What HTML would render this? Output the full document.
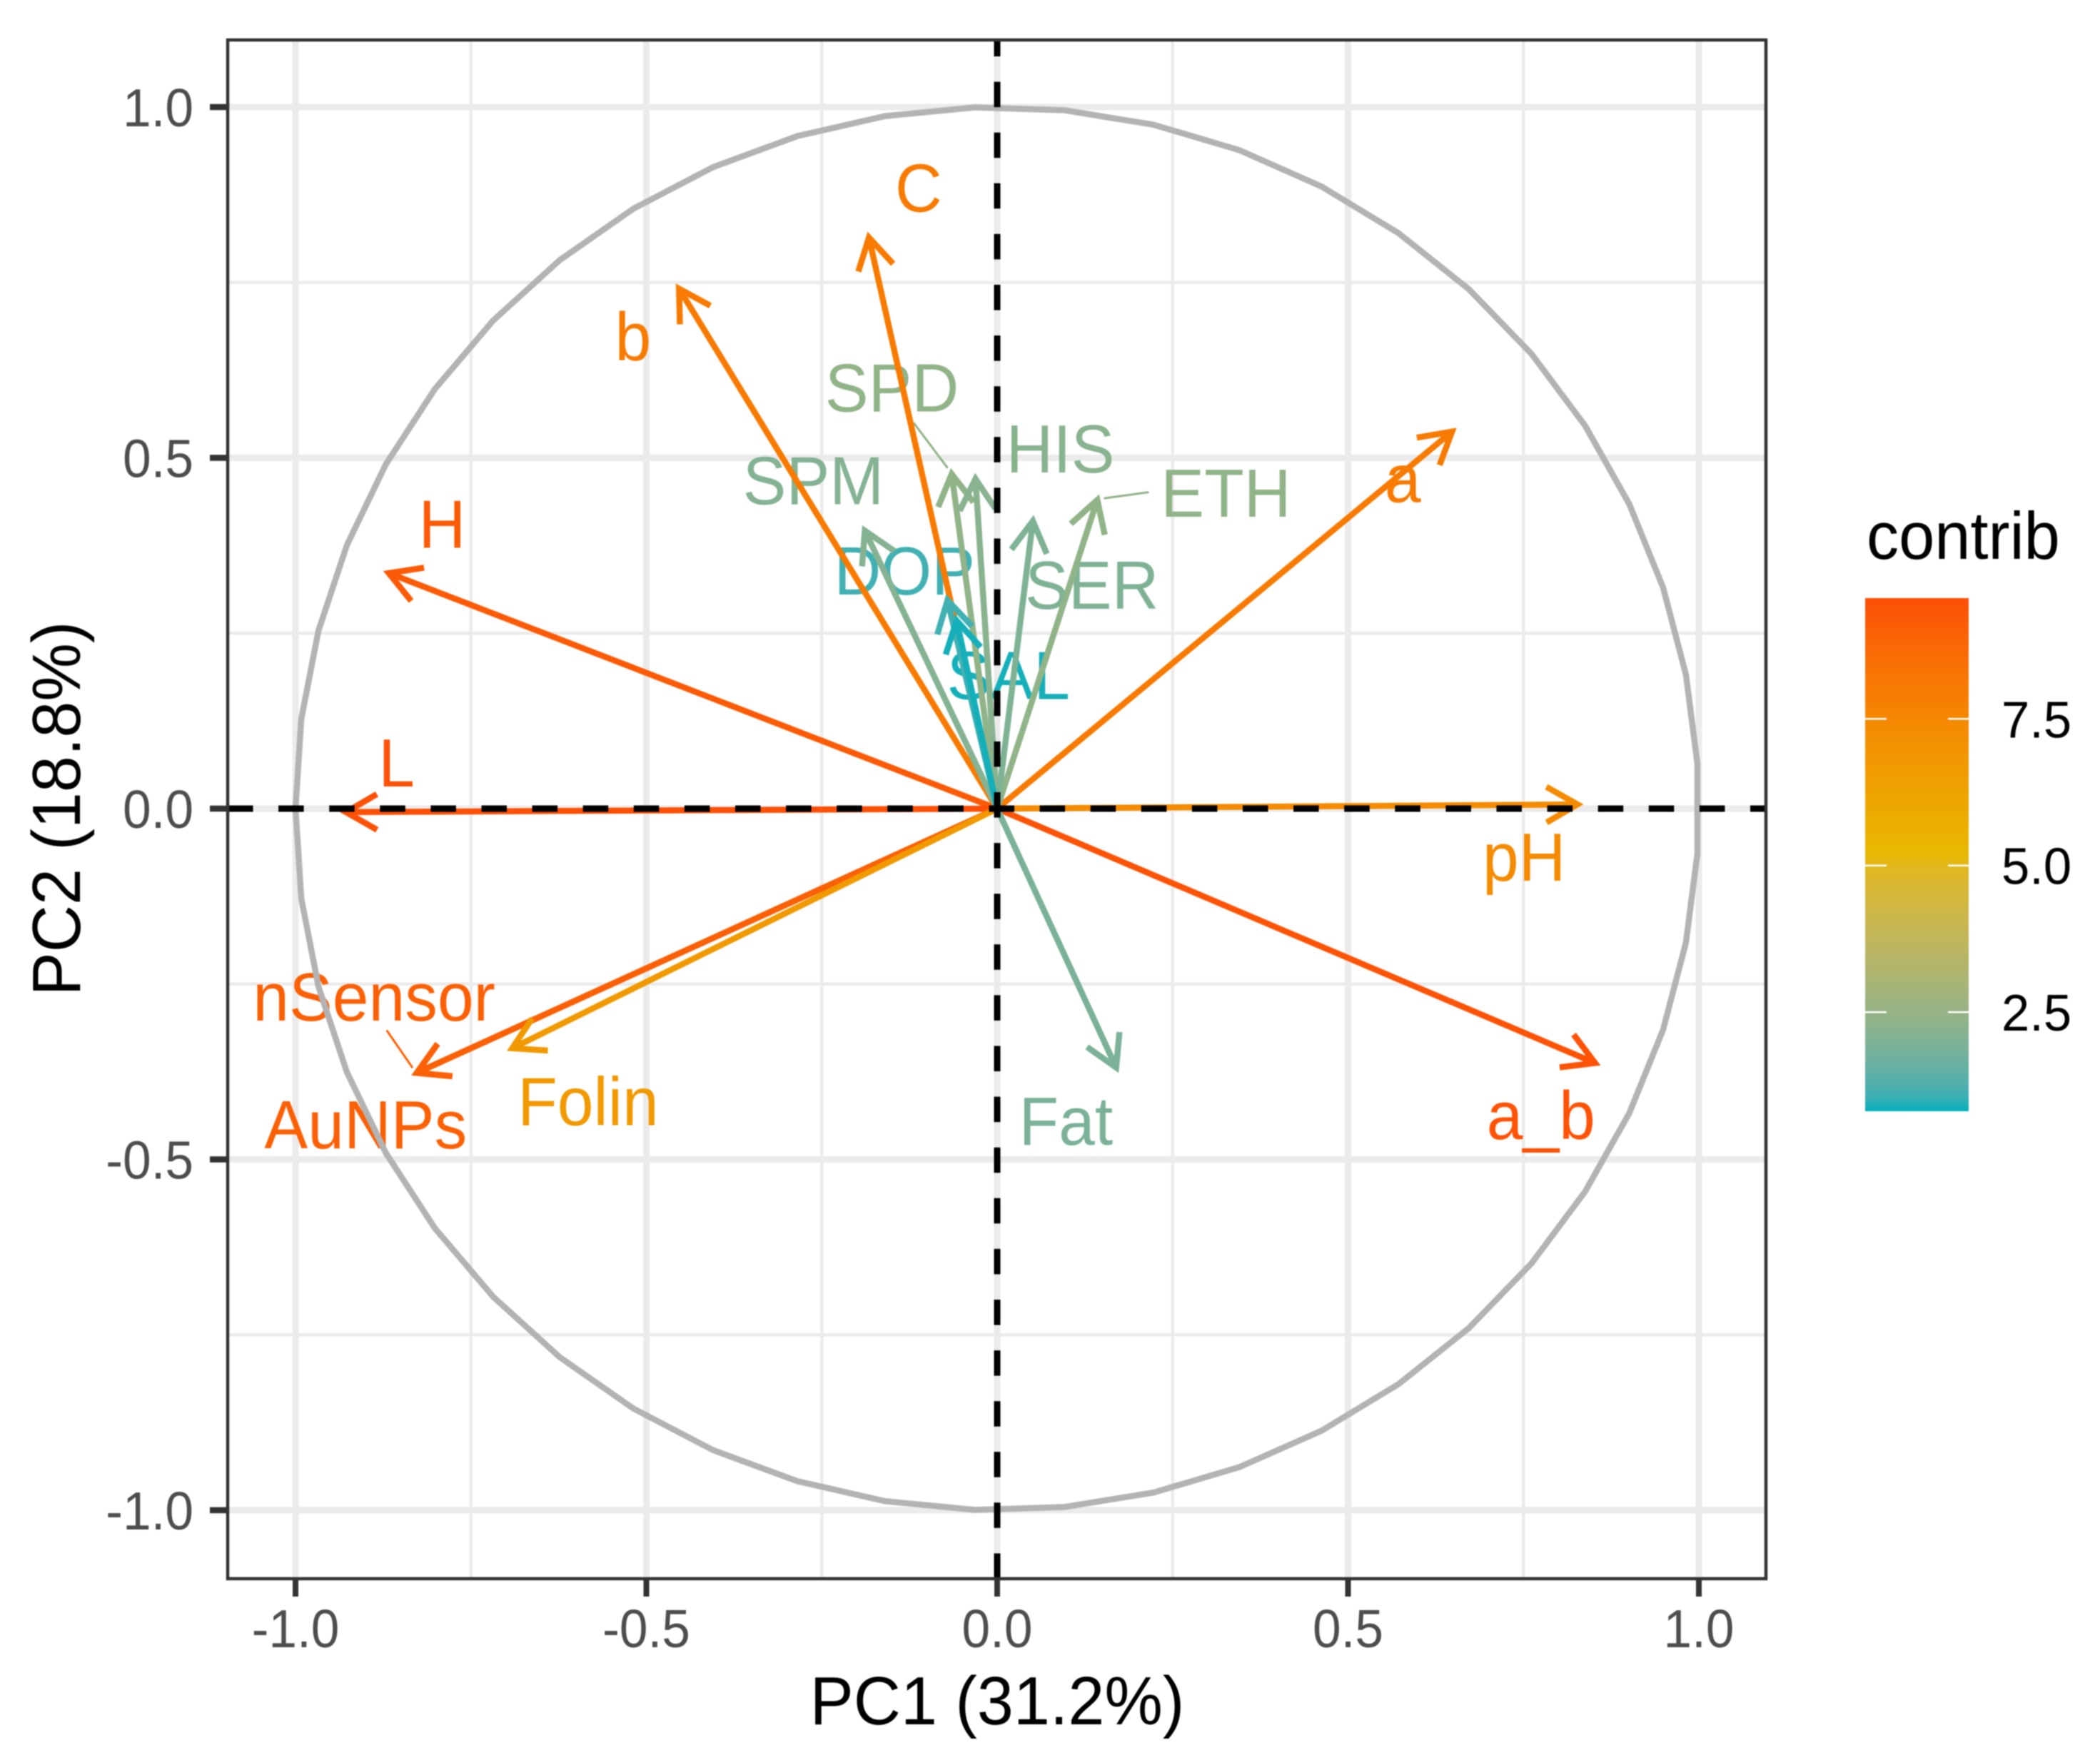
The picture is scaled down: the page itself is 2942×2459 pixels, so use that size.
<!DOCTYPE html>
<html lang="en">
<head>
<meta charset="utf-8">
<title>PCA variable correlation circle</title>
<style>
html,body{margin:0;padding:0;background:#fff;width:2942px;height:2459px;overflow:hidden}
svg{display:block;filter:blur(0.8px)}
text{font-family:"Liberation Sans",sans-serif}
</style>
</head>
<body>
<svg id="chart" xmlns="http://www.w3.org/2000/svg" width="2942" height="2459" viewBox="0 0 2942 2459">
  <defs><linearGradient id="legendGradient" x1="0" y1="1" x2="0" y2="0"></linearGradient></defs>
  <rect x="0" y="0" width="2942" height="2459" fill="#ffffff"/>
  <g id="gridLayer"></g>
  <g id="labelLayer"></g>
  <g id="leaderLayer"></g>
  <g id="arrowLayer"></g>
  <polyline id="unitCircle" fill="none" stroke="#b3b3b3" stroke-width="8.5"/>
  <g id="refLayer"></g>
  <rect x="319" y="56" width="2155" height="2156" fill="none" stroke="#333333" stroke-width="4.5"/>
  <g id="axisLayer"></g>
  <text transform="translate(1397 2416) scale(.955 1)" font-size="96" text-anchor="middle" fill="#000000">PC1 (31.2%)</text>
  <text transform="translate(112 1133) rotate(-90) scale(.955 1)" font-size="96" text-anchor="middle" fill="#000000">PC2 (18.8%)</text>
  <g id="legendLayer">
    <text transform="translate(2615 783) scale(.96 1)" font-size="94" fill="#000000">contrib</text>
  </g>
</svg>
<script>
// ---- chart data (values in PCA units) ----
const variables = ['C','b','a','H','L','pH','a_b','Fat','AuNPs','nSensor','Folin','SPD','HIS','SPM','ETH','DOP','SER','SAL'];
const pc1 = [-0.183,-0.454,0.649,-0.868,-0.929,0.828,0.853,0.170,-0.828,-0.828,-0.692,-0.065,-0.031,-0.189,0.143,-0.071,0.051,-0.058];
const pc2 = [0.815,0.742,0.538,0.336,-0.005,0.006,-0.363,-0.370,-0.377,-0.377,-0.342,0.478,0.471,0.397,0.441,0.298,0.411,0.269];
const contrib = [8.0,8.0,8.0,9.2,9.5,7.3,9.4,1.9,9.0,9.0,6.7,2.4,2.2,2.1,2.4,1.1,2.0,0.85];
const labelPC1 = [-0.112,-0.519,0.578,-0.791,-0.856,0.751,0.775,0.098,-0.900,-0.888,-0.583,-0.150,0.090,-0.262,0.326,-0.132,0.135,0.016];
const labelPC2 = [0.851,0.639,0.437,0.372,0.0315,-0.103,-0.471,-0.479,-0.484,-0.302,-0.451,0.566,0.479,0.434,0.416,0.305,0.285,0.156];
const leaderNames = ['SPD','ETH','nSensor'];
const leaderFromPC1 = [-0.119,0.216,-0.870];
const leaderFromPC2 = [0.550,0.451,-0.316];
const majorTicks = [-1,-0.5,0,0.5,1];
const minorTicks = [-0.75,-0.25,0.25,0.75];
const tickLabels = ['-1.0','-0.5','0.0','0.5','1.0'];
const legendTicks = [2.5,5.0,7.5];
const legendTickLabels = ['2.5','5.0','7.5'];
const legendMin = 0.81;
const legendMid = 5.2;
const legendMax = 9.56;

// ---- axis functions ----
const originX = 1397, originY = 1133, unit = 983;
const panelL = 319, panelR = 2474, panelT = 56, panelB = 2212;
function xScale(v){ return originX + v * unit; }
function yScale(v){ return originY - v * unit; }
const legendT = 838, legendB = 1557, legendL = 2613, legendR = 2758;
function legendY(v){ return legendB - (v - legendMin) / (legendMax - legendMin) * (legendB - legendT); }

// ---- Lab colour scale: low -> mid -> high ----
function hexToLab(h){
  const c = [1,3,5].map(i => parseInt(h.substr(i,2),16)/255).map(u => u <= 0.04045 ? u/12.92 : Math.pow((u+0.055)/1.055,2.4));
  const X = (0.4124*c[0]+0.3576*c[1]+0.1805*c[2])/0.95047, Y = 0.2126*c[0]+0.7152*c[1]+0.0722*c[2], Z = (0.0193*c[0]+0.1192*c[1]+0.9505*c[2])/1.08883;
  const f = t => t > 0.008856 ? Math.cbrt(t) : 7.787*t + 16/116;
  return [116*f(Y)-16, 500*(f(X)-f(Y)), 200*(f(Y)-f(Z))];
}
function labToHex(L){
  const fy = (L[0]+16)/116, fx = fy + L[1]/500, fz = fy - L[2]/200;
  const g = t => t*t*t > 0.008856 ? t*t*t : (t-16/116)/7.787;
  const X = g(fx)*0.95047, Y = g(fy), Z = g(fz)*1.08883;
  const rgb = [3.2406*X-1.5372*Y-0.4986*Z, -0.9689*X+1.8758*Y+0.0415*Z, 0.0557*X-0.204*Y+1.057*Z];
  return '#' + rgb.map(u => {
    const v = u <= 0.0031308 ? 12.92*u : 1.055*Math.pow(u,1/2.4)-0.055;
    const n = Math.max(0,Math.min(255,Math.round(v*255)));
    return (n<16?'0':'') + n.toString(16);
  }).join('');
}
const labLow = hexToLab('#00AFBB'), labMid = hexToLab('#E7B800'), labHigh = hexToLab('#FC4E07');
function colorScale(v){
  const a = v <= legendMid ? labLow : labMid;
  const b = v <= legendMid ? labMid : labHigh;
  let t = v <= legendMid ? (v-legendMin)/(legendMid-legendMin) : (v-legendMid)/(legendMax-legendMid);
  t = Math.max(0,Math.min(1,t));
  return labToHex([0,1,2].map(i => a[i]+(b[i]-a[i])*t));
}

// ---- drawing ----
const NS = 'http://www.w3.org/2000/svg';
function make(tag, parent, props){
  const el = document.createElementNS(NS, tag);
  for (const k in props) el.setAttribute(k, props[k]);
  parent.appendChild(el);
  return el;
}
function placed(x, y, sx){ return 'translate(' + x + ' ' + y + ') scale(' + sx + ' 1)'; }
const gridLayer = document.getElementById('gridLayer');
const labelLayer = document.getElementById('labelLayer');
const leaderLayer = document.getElementById('leaderLayer');
const arrowLayer = document.getElementById('arrowLayer');
const refLayer = document.getElementById('refLayer');
const axisLayer = document.getElementById('axisLayer');
const legendLayer = document.getElementById('legendLayer');

minorTicks.forEach(t => {
  const v = make('line', gridLayer, {x1:xScale(t),x2:xScale(t),y1:panelT,y2:panelB,stroke:'#ebebeb','stroke-width':4.5});
  
  
  const h = make('line', gridLayer, {x1:panelL,x2:panelR,y1:yScale(t),y2:yScale(t),stroke:'#ebebeb','stroke-width':4.5});
  
  
});
majorTicks.forEach(t => {
  const v = make('line', gridLayer, {x1:xScale(t),x2:xScale(t),y1:panelT,y2:panelB,stroke:'#ebebeb','stroke-width':9});
  
  
  const h = make('line', gridLayer, {x1:panelL,x2:panelR,y1:yScale(t),y2:yScale(t),stroke:'#ebebeb','stroke-width':9});
  
  
});

variables.forEach((name, i) => {
  const lab = make('text', labelLayer, {transform:placed(xScale(labelPC1[i]),yScale(labelPC2[i]),0.95),'font-size':96,'text-anchor':'middle',fill:colorScale(contrib[i])});
  lab.textContent = name;
  
  
});

leaderNames.forEach((name, i) => {
  const idx = variables.indexOf(name);
  const tx = xScale(pc1[idx]), ty = yScale(pc2[idx]);
  const fx = xScale(leaderFromPC1[i]), fy = yScale(leaderFromPC2[i]);
  const d = Math.hypot(tx-fx, ty-fy);
  const seg = make('line', leaderLayer, {x1:fx,y1:fy,x2:tx-(tx-fx)/d*9,y2:ty-(ty-fy)/d*9,stroke:colorScale(contrib[idx]),'stroke-width':3});
  
  
});

const headLength = 50, headAngle = Math.PI/6, arrowWidth = 8.5, tipInset = 1;
variables.forEach((name, i) => {
  const outerX = xScale(pc1[i]), outerY = yScale(pc2[i]);
  const col = colorScale(contrib[i]);
  const ang = Math.atan2(yScale(0)-outerY, xScale(0)-outerX);
  const x = outerX + tipInset*Math.cos(ang), y = outerY + tipInset*Math.sin(ang);
  const g = make('g', arrowLayer, {});
  
  
  const shaft = make('line', g, {x1:xScale(0),y1:yScale(0),x2:x,y2:y,stroke:col,'stroke-width':arrowWidth});
  
  
  const ax = x + headLength*Math.cos(ang-headAngle), ay = y + headLength*Math.sin(ang-headAngle);
  const bx = x + headLength*Math.cos(ang+headAngle), by = y + headLength*Math.sin(ang+headAngle);
  const head = make('polyline', g, {points:ax+','+ay+' '+x+','+y+' '+bx+','+by,fill:'none',stroke:col,'stroke-width':arrowWidth,'stroke-linejoin':'miter'});
  
  
});

// unit circle reference outline (50 vertices, as drawn by the plotting library)
const circlePts = [];
for (let k = 0; k < 50; k++) {
  const th = -Math.PI + k * 2 * Math.PI / 49;
  circlePts.push(xScale(Math.cos(th)) + ',' + yScale(Math.sin(th)));
}
document.getElementById('unitCircle').setAttribute('points', circlePts.join(' '));

const zeroH = make('line', refLayer, {x1:panelL,x2:panelR,y1:yScale(0),y2:yScale(0),stroke:'#000000','stroke-width':9,'stroke-dasharray':'35.5 35.6'});


const zeroV = make('line', refLayer, {x1:xScale(0),x2:xScale(0),y1:panelB,y2:panelT,stroke:'#000000','stroke-width':9,'stroke-dasharray':'35.5 35.6'});



majorTicks.forEach((t, i) => {
  const tx = make('line', axisLayer, {x1:xScale(t),x2:xScale(t),y1:panelB,y2:panelB+25,stroke:'#333333','stroke-width':8});
  
  
  const lx = make('text', axisLayer, {transform:placed(xScale(t),2308,0.95),'font-size':75,'text-anchor':'middle',fill:'#4d4d4d'});
  lx.textContent = tickLabels[i];
  
  
  const ty = make('line', axisLayer, {x1:panelL-25,x2:panelL,y1:yScale(t),y2:yScale(t),stroke:'#333333','stroke-width':8.5});
  
  
  const ly = make('text', axisLayer, {transform:placed(271,yScale(t)+27,0.95),'font-size':75,'text-anchor':'end',fill:'#4d4d4d'});
  ly.textContent = tickLabels[i];
  
  
});

// legend colour bar
const gradient = document.getElementById('legendGradient');
for (let k = 0; k <= 40; k++) {
  const v = legendMin + (legendMax - legendMin) * k / 40;
  make('stop', gradient, {offset:(k/40*100)+'%','stop-color':colorScale(v)});
}
const bar = make('rect', legendLayer, {x:legendL,y:legendT,width:legendR-legendL,height:legendB-legendT,fill:'url(#legendGradient)'});


legendTicks.forEach((t, i) => {
  const l = make('line', legendLayer, {x1:legendL,x2:legendL+30,y1:legendY(t),y2:legendY(t),stroke:'#ffffff','stroke-width':2.5});
  
  
  const r = make('line', legendLayer, {x1:legendR-29,x2:legendR,y1:legendY(t),y2:legendY(t),stroke:'#ffffff','stroke-width':2.5});
  
  
  const lab = make('text', legendLayer, {transform:placed(2804,legendY(t)+26,0.98),'font-size':72,fill:'#000000'});
  lab.textContent = legendTickLabels[i];
  
  
});
</script>
</body>
</html>
